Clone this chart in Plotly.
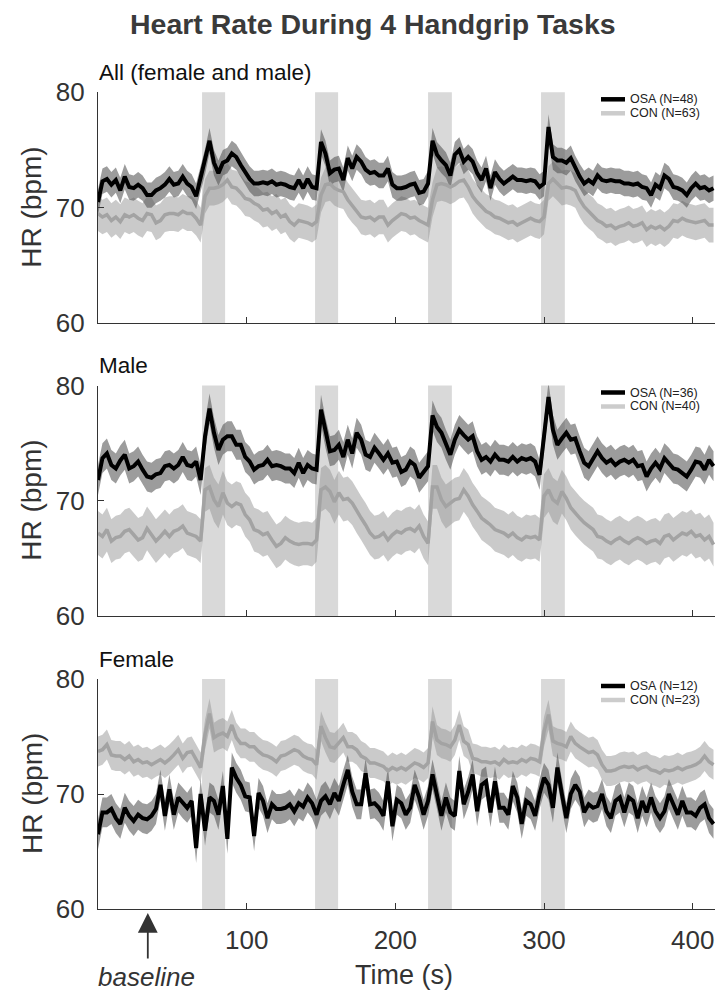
import plotly.graph_objects as go

# ---------------- data ----------------
T = list(range(0, 415, 3))  # sampling grid (s)

all_osa = [70.5, 72.3, 72.5, 72.0, 72.4, 71.5, 72.7, 71.8, 71.7, 72.0, 71.7, 71.1, 71.1, 71.5, 71.7, 72.0, 72.5, 72.0, 72.1, 72.7,
           72.1, 71.8, 71.0, 72.5, 74.0, 75.8, 73.9, 73.0, 73.9, 74.1, 74.7, 74.4, 73.7, 73.1, 72.5, 72.1, 72.1, 72.2, 72.1, 72.3,
           72.0, 72.1, 72.0, 71.8, 71.7, 72.4, 71.7, 72.5, 71.8, 71.7, 75.7, 74.7, 73.0, 73.3, 73.4, 72.4, 74.3, 73.4, 74.4, 74.0,
           73.3, 73.0, 73.1, 72.8, 72.8, 73.4, 72.0, 71.7,
           71.7, 71.8, 72.0, 72.1, 71.3, 71.4, 72.1, 75.8, 74.6, 74.1, 73.7, 72.8, 74.6, 75.0, 74.0, 74.4, 74.0, 73.0, 72.4, 73.4,
           71.7, 73.1, 72.5, 72.1, 72.4, 72.7, 72.4, 72.4, 72.3, 72.4, 72.3, 71.8, 72.1, 77.0, 74.4, 74.1, 74.1, 73.9, 74.3, 73.4,
           72.7, 72.1, 72.4, 72.1, 72.8, 72.4, 72.3, 72.4, 72.3, 72.3, 72.1, 72.1, 72.0, 72.1, 71.8, 71.7, 71.1, 72.0, 71.7, 72.8,
           72.5, 71.8, 71.7, 71.5, 71.1, 71.7, 72.1, 71.7, 71.8, 71.5, 71.7]
all_con = [69.5, 69.2, 69.4, 68.9, 69.2, 68.8, 69.4, 69.2, 69.4, 69.1, 68.9, 69.5, 69.4, 68.7, 68.9, 69.4, 69.5, 69.5, 69.4, 69.7,
           69.5, 69.5, 69.1, 68.5, 71.0, 71.7, 71.7, 71.8, 72.0, 72.4, 71.8, 71.7, 71.3, 70.8, 70.7, 70.4, 70.2, 69.8, 69.9, 69.5,
           69.7, 69.2, 69.4, 68.8, 68.5, 68.9, 68.8, 68.7, 68.5, 68.8, 71.1, 72.0, 72.1, 71.7, 71.5, 71.4, 70.7, 70.2, 69.8, 69.2,
           69.1, 69.2, 68.9, 69.2, 69.2, 68.5, 68.9, 69.2,
           69.5, 69.4, 69.1, 69.2, 68.9, 68.7, 68.5, 70.7, 72.0, 72.1, 72.0, 71.8, 72.0, 72.3, 72.4, 71.8, 71.0, 70.5, 70.1, 69.7,
           69.5, 69.2, 69.1, 68.9, 68.7, 68.8, 68.5, 68.7, 68.9, 69.1, 68.9, 68.8, 69.2, 72.1, 72.5, 72.1, 71.7, 71.8, 71.7, 71.5,
           70.7, 70.1, 69.7, 69.4, 68.9, 68.7, 68.4, 68.5, 68.2, 68.4, 68.5, 68.7, 68.4, 68.5, 68.7, 68.1, 68.4, 68.2, 68.4, 68.1,
           68.4, 68.9, 68.8, 69.1, 68.9, 68.8, 68.7, 68.8, 68.9, 68.5, 68.5]

male_osa = [71.8, 73.7, 74.1, 73.1, 72.8, 73.5, 74.0, 72.8, 73.0, 73.4, 72.7, 72.1, 72.0, 72.3, 72.4, 73.0, 73.1, 72.8, 73.1, 73.8,
            73.1, 73.0, 73.4, 71.8, 75.6, 78.0, 75.9, 74.4, 75.3, 75.6, 75.6, 74.85, 74.85, 73.8, 73.4, 72.7, 73.0, 73.1, 73.55, 73.0,
            73.1, 73.0, 72.8, 72.8, 72.4, 73.3, 72.4, 73.1, 72.8, 72.7, 77.9, 75.9, 74.3, 74.4, 74.85, 73.8, 75.3, 74.1, 75.9, 75.3,
            74.0, 73.8, 74.6, 74.1, 73.55, 74.1, 73.3, 73.4,
            72.5, 72.7, 73.4, 73.1, 72.0, 72.5, 73.0, 77.4, 76.4, 75.9, 74.85, 74.0, 75.3, 76.15, 75.7, 75.3, 75.6, 74.3, 73.55, 73.8,
            73.4, 74.0, 73.55, 73.55, 73.4, 73.8, 73.4, 73.7, 73.55, 73.7, 73.4, 72.25, 75.6, 79.0, 76.15, 74.85, 75.4, 75.9, 75.3, 75.4,
            74.3, 73.3, 73.0, 73.7, 74.3, 73.7, 73.3, 73.55, 73.1, 73.4, 73.55, 73.3, 73.55, 73.0, 73.1, 72.1, 72.8, 73.3, 72.8, 73.7,
            73.3, 72.8, 72.7, 72.4, 72.1, 72.7, 73.4, 73.3, 72.7, 73.55, 73.0]
male_con = [67.2, 66.9, 67.5, 66.5, 66.8, 66.9, 67.35, 67.5, 67.05, 66.6, 66.8, 67.6, 67.05, 66.5, 66.9, 67.35, 66.9, 67.35, 67.5, 67.8,
            67.2, 67.05, 66.9, 66.5, 70.95, 71.2, 70.1, 69.5, 70.7, 69.8, 69.5, 69.8, 69.65, 68.8, 68.35, 67.5, 67.35, 67.05, 67.2, 66.6,
            66.05, 66.3, 66.8, 66.5, 66.3, 66.2, 66.3, 66.3, 66.2, 66.6, 70.95, 71.2, 70.8, 69.9, 70.7, 70.1, 70.2, 69.8, 69.1, 68.5,
            67.9, 67.2, 66.8, 66.9, 67.2, 66.6, 67.05, 67.35,
            67.2, 67.5, 67.6, 67.35, 67.8, 66.9, 66.3, 71.2, 71.2, 70.1, 69.5, 69.8, 70.1, 70.2, 70.95, 70.4, 69.65, 69.1, 68.5, 68.2,
            67.9, 67.5, 67.35, 67.2, 66.9, 67.2, 66.8, 66.6, 66.9, 66.8, 66.9, 66.6, 70.4, 70.95, 70.1, 69.8, 70.8, 70.2, 69.4, 68.9,
            68.5, 68.1, 67.8, 67.5, 66.9, 66.8, 66.5, 66.3, 66.6, 66.8, 66.5, 66.3, 66.6, 66.8, 66.6, 66.3, 66.5, 66.6, 66.3, 66.9,
            67.05, 66.6, 66.9, 67.2, 67.05, 67.35, 66.9, 67.05, 66.6, 66.9, 66.2]

female_osa = [66.5, 68.4, 68.4, 68.7, 67.9, 67.4, 68.8, 68.1, 67.65, 68.2, 67.9, 67.8, 68.1, 68.7, 70.8, 68.1, 70.4, 68.2, 69.7, 69.2,
              68.8, 69.4, 65.3, 70.0, 66.8, 69.7, 69.4, 68.2, 70.7, 66.1, 72.3, 71.4, 70.8, 69.8, 69.7, 66.35, 70.1, 69.4, 67.9, 69.1,
              68.7, 68.7, 68.8, 69.1, 68.5, 69.2, 68.9, 69.7, 69.2, 68.2, 69.4, 69.8, 69.1, 70.1, 69.4, 70.8, 72.1, 70.2, 69.1, 69.1,
              71.8, 69.1, 69.2, 68.8, 68.1, 71.1, 67.2, 69.5,
              69.2, 68.2, 68.8, 70.8, 69.7, 68.2, 69.4, 71.7, 70.0, 68.1, 69.7, 68.4, 68.1, 72.0, 69.1, 70.2, 71.7, 68.5, 70.8, 71.1,
              68.4, 71.1, 68.8, 68.8, 68.2, 70.7, 69.7, 67.4, 69.4, 69.1, 68.1, 70.0, 71.4, 70.8, 68.8, 72.3, 70.0, 67.9, 70.0, 70.8,
              70.2, 68.4, 69.1, 68.8, 68.95, 70.0, 68.5, 67.9, 69.4, 69.7, 68.4, 69.7, 69.4, 67.9, 69.4, 68.4, 69.7, 68.5, 67.9, 68.5,
              70.0, 69.1, 68.2, 69.4, 68.4, 68.4, 68.1, 68.8, 69.1, 67.9, 67.4]
female_con = [73.7, 73.85, 74.3, 73.4, 73.3, 73.3, 73.0, 73.3, 72.8, 73.0, 72.7, 72.8, 72.55, 72.8, 73.0, 72.7, 73.0, 73.4, 73.85, 73.1,
              73.6, 73.7, 73.0, 72.3, 75.15, 77.0, 74.9, 75.15, 75.3, 75.0, 76.0, 74.9, 74.4, 74.4, 74.1, 74.1, 73.7, 73.4, 73.3, 73.1,
              72.8, 73.3, 73.4, 73.6, 73.85, 73.7, 73.3, 73.1, 73.0, 72.55, 75.9, 74.9, 74.1, 74.0, 74.4, 74.9, 74.1, 74.1, 73.85, 73.3,
              73.1, 72.7, 72.7, 72.55, 72.4, 72.0, 72.3, 72.1,
              72.3, 72.1, 72.4, 72.7, 72.55, 72.3, 72.7, 76.3, 74.7, 74.4, 74.3, 74.1, 74.7, 76.0, 74.6, 74.3, 73.1, 73.0, 72.8, 72.8,
              72.7, 72.8, 72.55, 73.0, 72.7, 72.8, 72.7, 73.0, 72.8, 73.1, 73.0, 72.8, 75.4, 76.9, 74.6, 74.4, 74.3, 74.1, 75.0, 74.4,
              74.1, 73.85, 73.6, 73.7, 73.4, 72.55, 72.0, 72.0, 72.1, 72.3, 72.4, 72.3, 72.4, 72.1, 72.3, 72.4, 72.1, 72.0, 71.8, 72.1,
              72.0, 72.1, 72.3, 72.1, 72.3, 72.4, 72.55, 72.8, 73.3, 72.8, 72.55]

# standard error (bpm), read as typical half-width of the shaded bands
sem = {"all": (1.1, 1.5), "male": (1.3, 1.9), "female": (1.3, 1.3)}

task_start = [70, 146, 222, 298]
task_end = [85.5, 161.5, 238, 314]

panel_titles = ["All (female and male)", "Male", "Female"]
n_osa = [48, 36, 12]
n_con = [63, 40, 23]
baseline_t = 33.5

# ---------------- layout helpers ----------------
W, H = 718, 993
ML, MR, MT, MB = 98, 3, 92, 84
PW = W - ML - MR
PH = H - MT - MB


def py(ypx):
    return (H - MB - ypx) / PH


def px(xpx):
    return (xpx - ML) / PW


panel_px = [(92.3, 323.3), (385.5, 616.0), (679.0, 909.0)]

series = [(all_osa, all_con, "all"), (male_osa, male_con, "male"), (female_osa, female_con, "female")]

OSA_BAND = "rgba(85,85,85,0.58)"
CON_BAND = "rgba(150,150,150,0.5)"
CON_LINE = "#a3a3a3"
AX = "#333333"

fig = go.Figure()
layout = dict(
    width=W, height=H,
    margin=dict(l=ML, r=MR, t=MT, b=MB),
    paper_bgcolor="white", plot_bgcolor="white",
    showlegend=False,
    font=dict(family="Liberation Sans, Arial, sans-serif", color=AX),
)
shapes = []
annotations = []

for i, (osa, con, key) in enumerate(series):
    xa = "x" if i == 0 else f"x{i+1}"
    ya = "y" if i == 0 else f"y{i+1}"
    so, sc = sem[key]
    for vals, s, band in ((con, sc, CON_BAND), (osa, so, OSA_BAND)):
        up = [v + s for v in vals]
        lo = [v - s for v in vals]
        fig.add_trace(go.Scatter(x=T + T[::-1], y=up + lo[::-1], fill="toself", fillcolor=band,
                                 line=dict(width=0), mode="lines", hoverinfo="skip", xaxis=xa, yaxis=ya))
    fig.add_trace(go.Scatter(x=T, y=con, mode="lines", line=dict(color=CON_LINE, width=3.5),
                             hoverinfo="skip", xaxis=xa, yaxis=ya))
    fig.add_trace(go.Scatter(x=T, y=osa, mode="lines", line=dict(color="black", width=4),
                             hoverinfo="skip", xaxis=xa, yaxis=ya))

    top, bot = panel_px[i]
    xname = "xaxis" if i == 0 else f"xaxis{i+1}"
    yname = "yaxis" if i == 0 else f"yaxis{i+1}"
    layout[xname] = dict(domain=[0, 1], anchor=ya, range=[0, 415], tickvals=[100, 200, 300, 400],
                         ticks="inside", ticklen=6, tickwidth=1.2, tickcolor=AX,
                         showline=True, linecolor=AX, linewidth=1.4, showgrid=False, zeroline=False,
                         showticklabels=(i == 2), tickfont=dict(size=26, color=AX), ticklabelstandoff=8,
                         automargin=False)
    layout[yname] = dict(domain=[py(bot), py(top)], anchor=xa, range=[60, 80], tickvals=[60, 70, 80],
                         ticks="inside", ticklen=6, tickwidth=1.2, tickcolor=AX,
                         showline=True, linecolor=AX, linewidth=1.4, showgrid=False, zeroline=False,
                         tickfont=dict(size=26, color=AX), ticklabelstandoff=7, automargin=False)
    for s0, s1 in zip(task_start, task_end):
        shapes.append(dict(type="rect", xref=xa, yref=f"{ya} domain", x0=s0, x1=s1, y0=0, y1=1,
                           fillcolor="#d9d9d9", line=dict(width=0), layer="below"))
    # panel title
    annotations.append(dict(text=panel_titles[i], xref="paper", yref="paper", x=px(97), y=py(top - 19.5),
                            xanchor="left", yanchor="middle", showarrow=False,
                            font=dict(size=22.5, color="#111111")))
    # y title
    annotations.append(dict(text="HR (bpm)", xref="paper", yref="paper", x=px(32), y=py((top + bot) / 2),
                            xanchor="center", yanchor="middle", textangle=-90, showarrow=False,
                            font=dict(size=28, color=AX)))
    # legend
    for j, (lab, col) in enumerate(((f"OSA (N={n_osa[i]})", "black"), (f"CON (N={n_con[i]})", "#cccccc"))):
        yy = py(top + 7 + 14 * j)
        shapes.append(dict(type="line", xref="paper", yref="paper", x0=px(601), x1=px(625), y0=yy, y1=yy,
                           line=dict(color=col, width=4.5)))
        annotations.append(dict(text=lab, xref="paper", yref="paper", x=px(629), y=yy, xanchor="left",
                                yanchor="middle", showarrow=False, borderpad=0,
                                font=dict(size=12.5, color="#222222")))

annotations.append(dict(text="<b>Heart Rate During 4 Handgrip Tasks</b>", xref="paper", yref="paper",
                        x=px(373), y=py(24), xanchor="center", yanchor="middle", showarrow=False,
                        font=dict(size=28.5, color="#3a3a3a")))
annotations.append(dict(text="Time (s)", xref="paper", yref="paper", x=px(404), y=py(975),
                        xanchor="center", yanchor="middle", showarrow=False, font=dict(size=27, color=AX)))
annotations.append(dict(text="<i>baseline</i>", xref="paper", yref="paper", x=px(146.5), y=py(977),
                        xanchor="center", yanchor="middle", showarrow=False, font=dict(size=26, color=AX)))
annotations.append(dict(text="", xref="x3", yref="paper", x=baseline_t, y=py(913), ax=0, ay=47,
                        showarrow=True, arrowhead=2, arrowsize=2.2, arrowwidth=1.8, arrowcolor=AX))

layout["shapes"] = shapes
layout["annotations"] = annotations
fig.update_layout(**layout)
fig.write_html("out.html", config={"displayModeBar": False},
               post_script="document.body.style.margin='0px';document.body.style.overflow='hidden';")
